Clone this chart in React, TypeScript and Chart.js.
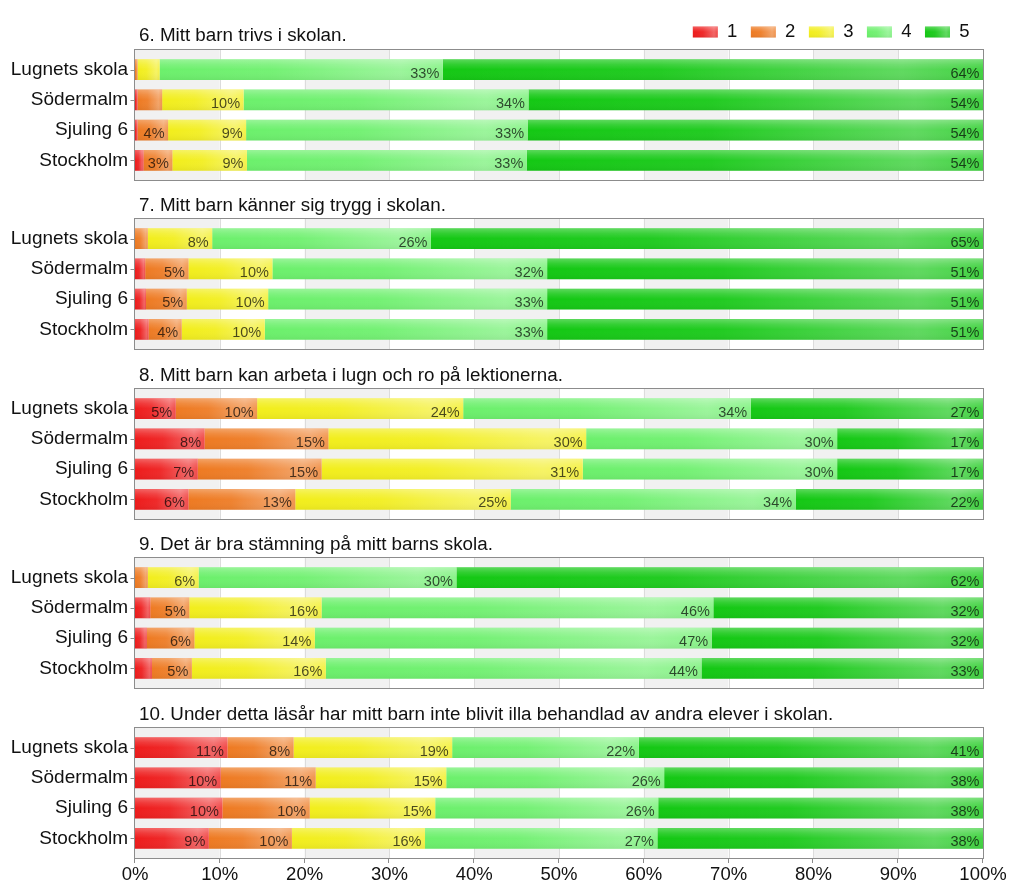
import React, { useEffect, useRef } from "react";
import { Chart, registerables } from "chart.js";

Chart.register(...registerables);

const FONT = "'Liberation Sans', Arial, Helvetica, sans-serif";

// ---- data ----
const schools = ["Lugnets skola", "Södermalm", "Sjuling 6", "Stockholm"];
const levels = ["1", "2", "3", "4", "5"];
const titles = [
  "6. Mitt barn trivs i skolan.",
  "7. Mitt barn känner sig trygg i skolan.",
  "8. Mitt barn kan arbeta i lugn och ro på lektionerna.",
  "9. Det är bra stämning på mitt barns skola.",
  "10. Under detta läsår har mitt barn inte blivit illa behandlad av andra elever i skolan.",
];
// each array: one row per answer level (1..5), values per school in %
const q6 = [
  [0, 0.3, 0.3, 1.0],
  [0.3, 2.9, 3.6, 3.4],
  [2.6, 9.6, 9.2, 8.8],
  [33.4, 33.6, 33.2, 33.0],
  [63.7, 53.6, 53.7, 53.8],
];
const q7 = [
  [0, 1.2, 1.3, 1.6],
  [1.5, 5.1, 4.8, 3.9],
  [7.6, 9.9, 9.6, 9.8],
  [25.8, 32.4, 32.9, 33.3],
  [65.1, 51.4, 51.4, 51.4],
];
const q8 = [
  [4.8, 8.2, 7.4, 6.3],
  [9.6, 14.6, 14.6, 12.6],
  [24.3, 30.4, 30.8, 25.4],
  [33.9, 29.6, 30.0, 33.6],
  [27.4, 17.2, 17.2, 22.1],
];
const q9 = [
  [0, 1.8, 1.4, 2.0],
  [1.5, 4.6, 5.6, 4.7],
  [6.0, 15.6, 14.2, 15.8],
  [30.4, 46.2, 46.8, 44.3],
  [62.1, 31.8, 32.0, 33.2],
];
const q10 = [
  [10.9, 10.1, 10.3, 8.7],
  [7.8, 11.2, 10.3, 9.8],
  [18.7, 15.4, 14.8, 15.7],
  [22.0, 25.7, 26.3, 27.4],
  [40.6, 37.6, 38.3, 38.4],
];
const questions = [q6, q7, q8, q9, q10];

// ---- styles / layout ----
const levelColors = ["#ee1c1c", "#ee7a22", "#f2ee1c", "#6cf06c", "#14c814"];
const panelTops = [0, 169, 339, 508, 678];
const EXT = 4.5;

function gloss(ctx: CanvasRenderingContext2D, l: number, t: number, w: number, h: number) {
  const gh = ctx.createLinearGradient(l, 0, l + w, 0);
  gh.addColorStop(0, "rgba(255,255,255,0)");
  gh.addColorStop(0.4, "rgba(255,255,255,0.06)");
  gh.addColorStop(0.85, "rgba(255,255,255,0.32)");
  gh.addColorStop(1, "rgba(255,255,255,0.2)");
  ctx.fillStyle = gh;
  ctx.fillRect(l, t, w, h);
  const gv = ctx.createLinearGradient(0, t, 0, t + h);
  gv.addColorStop(0, "rgba(255,255,255,0.3)");
  gv.addColorStop(0.25, "rgba(255,255,255,0.12)");
  gv.addColorStop(0.5, "rgba(255,255,255,0)");
  gv.addColorStop(1, "rgba(0,0,0,0.05)");
  ctx.fillStyle = gv;
  ctx.fillRect(l, t, w, h);
}

const panelPlugin: any = {
  id: "panel",
  beforeLayout(chart: any) {
    const lg = chart.legend;
    if (lg && !lg._patched && chart.options.plugins.legend.display) {
      const orig = lg.fit;
      lg.fit = function () {
        orig.call(this);
        this.height = 54.5 - 9.25;
      };
      lg._patched = true;
    }
  },
  beforeDatasetsDraw(chart: any) {
    const { ctx, chartArea: a } = chart;
    const xs = chart.scales.x;
    const top = a.top - EXT;
    const bottom = a.bottom + EXT;
    const vals: number[] = xs.ticks.map((t: any) => t.value);
    ctx.save();
    for (let i = 0; i < vals.length - 1; i++) {
      const x0 = xs.getPixelForValue(vals[i]);
      const x1 = xs.getPixelForValue(vals[i + 1]);
      ctx.fillStyle = i % 2 === 0 ? "#f1f1f1" : "#ffffff";
      ctx.fillRect(x0, top, x1 - x0, bottom - top);
    }
    ctx.strokeStyle = "#dcdcdc";
    ctx.lineWidth = 1;
    for (let i = 1; i < vals.length - 1; i++) {
      const px = Math.round(xs.getPixelForValue(vals[i])) + 0.5;
      ctx.beginPath();
      ctx.moveTo(px, top);
      ctx.lineTo(px, bottom);
      ctx.stroke();
    }
    ctx.restore();
  },
  afterDatasetsDraw(chart: any) {
    const { ctx } = chart;
    ctx.save();
    const items: any[] = [];
    chart.data.datasets.forEach((ds: any, di: number) => {
      const meta = chart.getDatasetMeta(di);
      meta.data.forEach((el: any, i: number) => {
        const p = el.getProps(["x", "y", "base", "height"], true);
        const l = Math.min(p.x, p.base);
        const r = Math.max(p.x, p.base);
        const w = r - l;
        if (w <= 0.01) return;
        const t = p.y - p.height / 2;
        gloss(ctx, l, t, w, p.height);
        items.push({ r, w, y: p.y, v: ds.data[i] });
      });
    });
    ctx.font = `14.5px ${FONT}`;
    ctx.fillStyle = "rgba(0,0,0,0.7)";
    ctx.textAlign = "right";
    ctx.textBaseline = "alphabetic";
    items.forEach((it) => {
      const txt = Math.round(it.v) + "%";
      const tw = ctx.measureText(txt).width;
      if (tw + 6 <= it.w) ctx.fillText(txt, it.r - 3.5, it.y + 8);
    });
    ctx.restore();
  },
  afterDraw(chart: any, _args: any, opts: any) {
    const { ctx, chartArea: a } = chart;
    const xs = chart.scales.x;
    const ys = chart.scales.y;
    const top = a.top - EXT;
    const bottom = a.bottom + EXT;
    ctx.save();
    ctx.strokeStyle = "#8c8c8c";
    ctx.lineWidth = 1;
    ctx.strokeRect(Math.round(a.left) - 0.5, Math.round(top) - 0.5, Math.round(a.right) - Math.round(a.left) + 1, Math.round(bottom) - Math.round(top) + 1);
    // y tick marks
    ys.ticks.forEach((_t: any, i: number) => {
      const py = Math.round(ys.getPixelForTick(i)) + 0.5;
      ctx.beginPath();
      ctx.moveTo(Math.round(a.left) - 4.5, py);
      ctx.lineTo(Math.round(a.left) - 0.5, py);
      ctx.stroke();
    });
    if (opts.xTicks) {
      xs.ticks.forEach((t: any) => {
        const px = Math.round(xs.getPixelForValue(t.value)) - 0.5;
        ctx.beginPath();
        ctx.moveTo(px, Math.round(bottom));
        ctx.lineTo(px, Math.round(bottom) + 5);
        ctx.stroke();
      });
    }
    // title
    ctx.font = `18.8px ${FONT}`;
    ctx.fillStyle = "#111";
    ctx.textAlign = "left";
    ctx.textBaseline = "alphabetic";
    ctx.fillText(opts.title, a.left + 4, opts.titleY);
    // legend gloss
    const lg = chart.legend;
    if (lg && chart.options.plugins.legend.display && lg.legendHitBoxes) {
      const lo = chart.options.plugins.legend.labels;
      const fs = lo.font.size;
      lg.legendHitBoxes.forEach((hb: any) => {
        const bt = hb.top + Math.max((fs - lo.boxHeight) / 2, 0);
        gloss(ctx, hb.left, bt, lo.boxWidth, lo.boxHeight);
      });
    }
    ctx.restore();
  },
};

function Panel({ index }: { index: number }) {
  const ref = useRef<HTMLCanvasElement>(null);
  const first = index === 0;
  const last = index === questions.length - 1;
  const height = last ? 218 : 200;
  const top = panelTops[index];

  useEffect(() => {
    const canvas = ref.current;
    if (!canvas) return;
    const values = questions[index];
    const chart = new Chart(canvas, {
      type: "bar",
      data: {
        labels: schools,
        datasets: levels.map((lv, k) => ({
          label: lv,
          data: values[k],
          backgroundColor: levelColors[k],
          borderWidth: 0,
          barPercentage: 0.685,
          categoryPercentage: 1,
        })),
      },
      options: {
        indexAxis: "y",
        responsive: false,
        animation: false,
        layout: {
          padding: {
            top: first ? 9.25 : 54.5,
            right: 41,
            bottom: last ? 0 : height - 175.5,
            left: 0,
          },
        },
        scales: {
          x: {
            type: "linear",
            stacked: true,
            min: 0,
            max: 100,
            display: last,
            grid: { display: false, drawTicks: false },
            border: { display: false },
            ticks: {
              stepSize: 10,
              callback: (v: any) => v + "%",
              font: { family: FONT, size: 18.5 },
              color: "#111",
              padding: 10,
              maxRotation: 0,
              autoSkip: false,
            },
            afterFit: (s: any) => {
              s.height = last ? 42.5 : 0;
            },
          },
          y: {
            type: "category",
            stacked: true,
            grid: { display: false, drawTicks: false },
            border: { display: false },
            ticks: { font: { family: FONT, size: 19 }, color: "#111", padding: 7, autoSkip: false },
            afterFit: (s: any) => {
              s.width = 135;
            },
          },
        },
        plugins: {
          legend: {
            display: first,
            position: "top",
            align: "end",
            labels: {
              boxWidth: 25,
              boxHeight: 11,
              padding: 13.5,
              font: { family: FONT, size: 18.5 },
              color: "#111",
            },
          },
          tooltip: { enabled: false },
          panel: { title: titles[index], xTicks: last, titleY: first ? 41 : 42.3 },
        } as any,
      } as any,
      plugins: [panelPlugin],
    });
    return () => chart.destroy();
  }, [index]);

  return (
    <canvas
      ref={ref}
      width={1024}
      height={height}
      style={{ position: "absolute", left: 0, top, width: 1024, height, display: "block" }}
    />
  );
}

export default function App() {
  return (
    <div style={{ position: "absolute", left: 0, top: 0, width: 1024, height: 896, background: "#fff", overflow: "hidden" }}>
      {questions.map((_q, i) => (
        <Panel key={i} index={i} />
      ))}
    </div>
  );
}
